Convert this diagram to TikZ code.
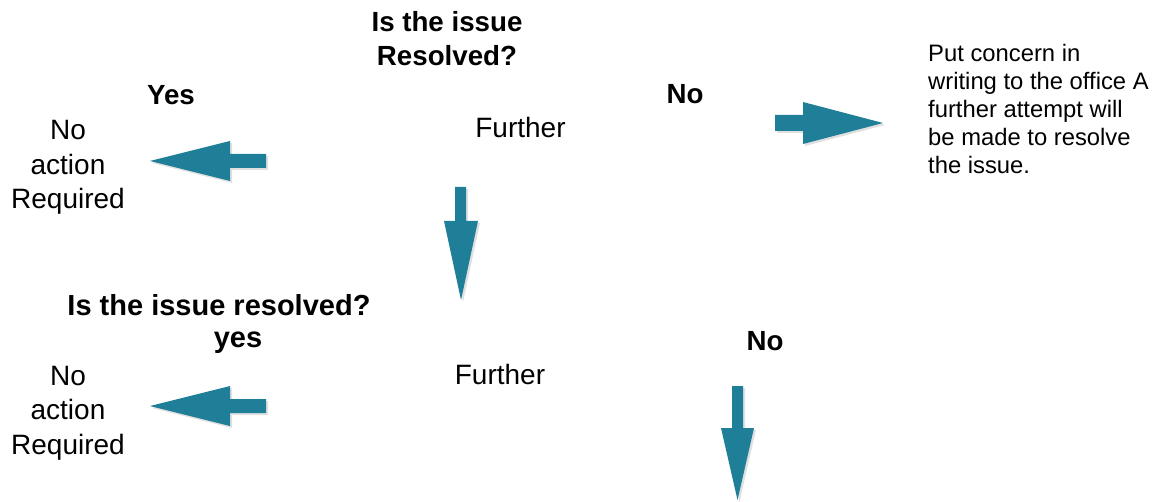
\documentclass[tikz,border=0pt]{standalone}
\usepackage{fontspec}
\setmainfont{Liberation Sans}
\definecolor{arrowteal}{RGB}{31,126,152}
\begin{document}
\begin{tikzpicture}[x=1pt,y=-1pt,
  big/.style={font=\fontsize{28}{34.5}\selectfont, inner sep=0pt, align=center},
  bighead/.style={font=\fontsize{27.7}{34}\selectfont\bfseries, inner sep=0pt, align=center},
  bighead2/.style={font=\fontsize{29}{32}\selectfont\bfseries, inner sep=0pt, align=center},
  small/.style={font=\fontsize{23.8}{28}\selectfont, inner sep=0pt, align=left},
  blockarrow/.style={fill=arrowteal, draw=none},
  arrowshadow/.style={fill=black, opacity=0.12, draw=none}]
\useasboundingbox (0,0) rectangle (1161,502);
% texts (anchor=base is the baseline of the last line)
\node[bighead, anchor=base] (q1) at (447,66) {Is the issue\\Resolved?};
\node[bighead, anchor=base] (yes1) at (171,105) {Yes};
\node[big, anchor=base] (na1) at (68,209) {No\\action\\Required};
\node[big, anchor=base] (fu1) at (520.5,138) {Further};
\node[bighead, anchor=base] (no1) at (685,104) {No};
\node[small, anchor=base west] (put) at (928,174) {Put concern in\\writing to the office A\\further attempt will\\be made to resolve\\the issue.};
\node[bighead2, anchor=base] (q2) at (219,347) {Is the issue resolved?\\\hspace*{38pt}yes};
\node[bighead, anchor=base] (no2) at (765,350) {No};
\node[big, anchor=base] (fu2) at (500,384) {Further};
\node[big, anchor=base] (na2) at (68,454) {No\\action\\Required};
% arrow shadows
\begin{scope}[shift={(2,2)}]
\fill[arrowshadow] (266,154) -- (230,154) -- (230,141) -- (150,161) -- (230,181) -- (230,168) -- (266,168) -- cycle;
\fill[arrowshadow] (266,399) -- (230,399) -- (230,386) -- (150,406) -- (230,426) -- (230,413) -- (266,413) -- cycle;
\fill[arrowshadow] (455,187) -- (466,187) -- (466,221) -- (478,221) -- (461,300) -- (444,221) -- (455,221) -- cycle;
\fill[arrowshadow] (775,115) -- (803,115) -- (803,102) -- (883,123) -- (803,144) -- (803,131) -- (775,131) -- cycle;
\fill[arrowshadow] (732,386) -- (743,386) -- (743,428) -- (754,428) -- (737.5,500) -- (721,428) -- (732,428) -- cycle;
\end{scope}
% arrows
\fill[blockarrow] (266,154) -- (230,154) -- (230,141) -- (150,161) -- (230,181) -- (230,168) -- (266,168) -- cycle;
\fill[blockarrow] (266,399) -- (230,399) -- (230,386) -- (150,406) -- (230,426) -- (230,413) -- (266,413) -- cycle;
\fill[blockarrow] (455,187) -- (466,187) -- (466,221) -- (478,221) -- (461,300) -- (444,221) -- (455,221) -- cycle;
\fill[blockarrow] (775,115) -- (803,115) -- (803,102) -- (883,123) -- (803,144) -- (803,131) -- (775,131) -- cycle;
\fill[blockarrow] (732,386) -- (743,386) -- (743,428) -- (754,428) -- (737.5,500) -- (721,428) -- (732,428) -- cycle;
\end{tikzpicture}
\end{document}
